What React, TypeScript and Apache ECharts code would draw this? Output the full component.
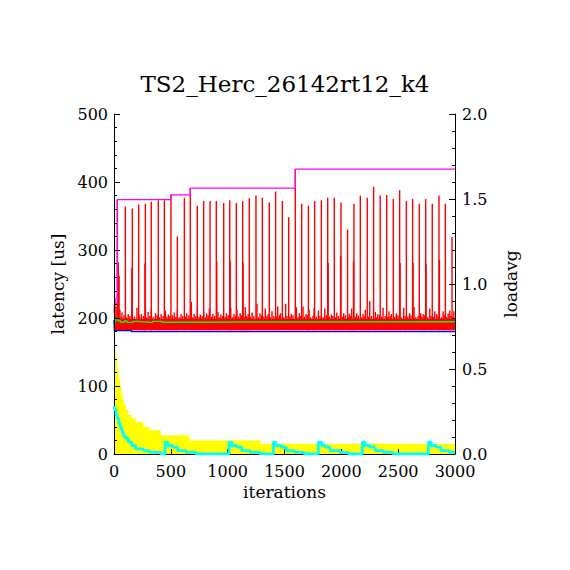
import React, { useEffect, useRef } from "react";
import * as echarts from "echarts";

// ---------- texts ----------
const TITLE = "TS2_Herc_26142rt12_k4";
const X_NAME = "iterations";
const Y_NAME = "latency [us]";
const Y2_NAME = "loadavg";

// ---------- axes ----------
const X_MIN = 0;
const X_MAX = 3000;
const X_STEP = 500;
const LAT_MIN = 0;
const LAT_MAX = 500;
const LAT_STEP = 100;
const LOAD_MIN = 0;
const LOAD_MAX = 2;
const LOAD_STEP = 0.5;

// ---------- latency: dense noise band (iterations, latency us) ----------
const bandIter = [0, 3000];
const bandLow = [182, 182];
const bandHigh = [199, 199];

// tall periodic spikes
const tallSpikeIter = [
  29, 100, 161, 217, 276, 328, 390, 443, 501, 557, 619, 671, 733, 789, 845, 900,
  965, 1018, 1076, 1132, 1190, 1249, 1305, 1366, 1422, 1481, 1537, 1595, 1651,
  1710, 1765, 1824, 1880, 1938, 1997, 2055, 2111, 2167, 2228, 2284, 2342, 2399,
  2457, 2513, 2572, 2627, 2686, 2742, 2800, 2859, 2915, 2974,
];
const tallSpikeVal = [
  374, 364, 361, 367, 368, 371, 373, 373, 381, 320, 377, 391, 365, 372, 372, 372,
  369, 373, 369, 372, 376, 380, 377, 370, 386, 372, 348, 419, 368,
  365, 372, 373, 377, 377, 370, 330, 368, 380, 377, 393, 380, 381,
  375, 388, 372, 375, 368, 375, 368, 380, 368, 319,
];

// medium spikes
const midSpikeIter = [
  8, 38, 45, 157, 272, 904, 1022, 1136, 1884, 1993, 2107, 2517, 2631, 2746, 2863,
];
const midSpikeVal = [
  230, 282, 262, 273, 280, 283, 283, 281, 281, 291, 283, 281, 281, 279, 285,
];

// small spikes on top of the band
const smallSpikeIter = [
  18, 52, 70, 125, 158, 202, 240, 300, 328, 365, 415, 452, 478, 530, 557, 590,
  640, 680, 705, 733, 760, 789, 815, 839, 870, 915, 940, 990, 1027, 1055, 1082,
  1110, 1155, 1180, 1215, 1258, 1285, 1331, 1355, 1390, 1440, 1465, 1510, 1560,
  1604, 1630, 1663, 1690, 1716, 1760, 1798, 1854, 1912, 1960, 2021, 2070, 2091,
  2135, 2190, 2211, 2250, 2299, 2320, 2367, 2419, 2440, 2484, 2549, 2600, 2640,
  2698, 2720, 2778, 2822, 2840, 2895, 2940, 2954, 2990,
];
const smallSpikeVal = [
  217, 212, 208, 206, 212, 215, 206, 209, 214, 207, 206, 211, 205, 208, 210, 206,
  207, 224, 206, 216, 205, 210, 207, 214, 206, 209, 205, 207, 215, 206, 212,
  207, 216, 206, 208, 221, 207, 214, 206, 210, 217, 207, 221, 206,
  216, 207, 217, 206, 212, 214, 211, 214, 205, 208, 207, 206, 214,
  207, 206, 212, 225, 209, 206, 215, 210, 206, 207, 215, 207, 216,
  207, 206, 214, 210, 206, 210, 207, 211, 210,
];

// fine ragged noise along the top edge of the band
const fineNoiseIter = [
  35, 62, 88, 112, 140, 180, 222, 258, 285, 315, 345, 380, 400, 432, 465, 492,
  515, 545, 575, 605, 628, 658, 692, 720, 748, 775, 802, 828, 858, 885, 925,
  955, 978, 1005, 1040, 1068, 1095, 1122, 1145, 1168, 1200, 1230, 1270, 1298,
  1318, 1345, 1375, 1405, 1430, 1455, 1492, 1522, 1548, 1575, 1618, 1642, 1675,
  1700, 1730, 1750, 1780, 1812, 1840, 1868, 1895, 1925, 1948, 1975, 2008, 2035,
  2062, 2080, 2122, 2150, 2178, 2200, 2240, 2265, 2310, 2335, 2355, 2385, 2408,
  2430, 2470, 2498, 2528, 2560, 2585, 2612, 2655, 2675, 2708, 2732, 2760, 2790,
  2812, 2850, 2880, 2905, 2928, 2965, 2985,
];
const fineNoiseVal = [
  203, 202, 204, 201, 203, 202, 204, 203, 201, 203, 202, 204, 201, 203, 202, 203,
  204, 202, 201, 203, 202, 204, 201, 203, 202, 203, 201, 204, 202, 203, 201,
  203, 202, 204, 201, 203, 202, 204, 201, 203, 202, 203, 201, 204,
  202, 203, 201, 203, 202, 204, 201, 203, 202, 204, 201, 203, 202,
  204, 201, 203, 202, 203, 201, 204, 202, 203, 201, 203, 202, 204,
  201, 203, 202, 204, 201, 203, 202, 203, 201, 204, 202, 203, 201,
  203, 202, 204, 201, 203, 202, 204, 201, 203, 202, 204, 201, 203,
  202, 203, 201, 204, 202, 203, 201,
];

// running minimum / average / maximum latency (step lines)
const minIter = [0, 3, 152, 3000];
const minVal = [197, 181.5, 180, 180];
const avgIter = [0, 10, 40, 60, 90, 115, 170, 210, 280, 300, 340, 420, 470, 3000];
const avgVal = [193, 197, 195.5, 193.5, 195.5, 193.5, 195, 194, 195, 193.5, 195, 193.8, 194.5, 194.5];
const maxIter = [0, 5, 29, 501, 671, 1595, 3000];
const maxVal = [207, 221, 374, 381, 391, 419, 419];

// ---------- loadavg (right axis) ----------
const loadAIter = [0, 6, 18, 29, 41, 53, 64, 76, 88, 106, 126, 155, 191, 258, 311, 410, 663, 1290, 3000];
const loadAVal = [0.68, 0.61, 0.56, 0.49, 0.44, 0.4, 0.36, 0.32, 0.29, 0.26, 0.23, 0.21, 0.19, 0.16, 0.14, 0.11, 0.08, 0.06, 0.06];

const loadBIter = [
  0, 6, 18, 29, 41, 53, 64, 76, 88, 106, 126, 155, 191, 258, 311, 410,
  449, 472, 516, 560, 633, 721,
  1012, 1035, 1079, 1123, 1196, 1284,
  1402, 1425, 1469, 1513, 1586, 1674,
  1798, 1827, 1857, 1901, 1983, 2062,
  2185, 2208, 2252, 2296, 2369, 2457,
  2766, 2789, 2833, 2877, 2950, 3000,
];
const loadBVal = [
  0.28, 0.26, 0.23, 0.21, 0.18, 0.16, 0.14, 0.12, 0.1, 0.09, 0.07, 0.05, 0.03, 0.02, 0.01, 0.0,
  0.07, 0.05, 0.04, 0.02, 0.01, 0.0,
  0.07, 0.05, 0.04, 0.02, 0.01, 0.0,
  0.07, 0.05, 0.04, 0.02, 0.01, 0.0,
  0.07, 0.05, 0.04, 0.02, 0.01, 0.0,
  0.07, 0.05, 0.04, 0.02, 0.01, 0.0,
  0.07, 0.05, 0.04, 0.02, 0.01, 0.01,
];

// ---------- styles ----------
const FONT = "DejaVu Serif";
const BLACK = "#000000";
const RED = "#ff0000";
const SPIKE_W = 1.4;

const zip = (xs: number[], ys: number[]) => xs.map((x, i) => [x, ys[i]]);

export default function App() {
  const ref = useRef<HTMLDivElement>(null);

  useEffect(() => {
    if (!ref.current) return;
    const chart = echarts.init(ref.current, undefined, { renderer: "svg" });

    const redData: number[][] = [];
    for (let i = 0; i < bandIter.length - 1; i++) {
      redData.push([bandIter[i], bandIter[i + 1], bandLow[i], bandHigh[i]]);
    }
    const base = bandLow[0];
    fineNoiseIter.forEach((x, i) => redData.push([x, x, base, fineNoiseVal[i]]));
    smallSpikeIter.forEach((x, i) => redData.push([x, x, base, smallSpikeVal[i]]));
    midSpikeIter.forEach((x, i) => redData.push([x, x, base, midSpikeVal[i]]));
    tallSpikeIter.forEach((x, i) => redData.push([x, x, base, tallSpikeVal[i]]));

    const nameText = { color: BLACK, fontFamily: FONT, fontSize: 17 };
    const tickText = { color: BLACK, fontFamily: FONT, fontSize: 16 };

    chart.setOption({
      animation: false,
      backgroundColor: "#ffffff",
      title: {
        text: TITLE,
        left: "center",
        top: 67,
        textStyle: { color: BLACK, fontFamily: FONT, fontSize: 23, fontWeight: "normal" },
      },
      grid: { left: 114, right: 115, top: 114, bottom: 116, containLabel: false },
      xAxis: {
        type: "value",
        min: X_MIN,
        max: X_MAX,
        interval: X_STEP,
        z: 8,
        name: X_NAME,
        nameLocation: "middle",
        nameGap: 24,
        nameTextStyle: nameText,
        axisLine: { show: true, onZero: false, lineStyle: { color: BLACK, width: 1 } },
        axisTick: { show: true, inside: true, length: 5, lineStyle: { color: BLACK } },
        axisLabel: { ...tickText, margin: 9, formatter: (v: number) => String(v) },
        splitLine: { show: false },
      },
      yAxis: [
        {
          type: "value",
          min: LAT_MIN,
          max: LAT_MAX,
          interval: LAT_STEP,
          position: "left",
          z: 8,
          name: Y_NAME,
          nameLocation: "middle",
          nameRotate: 90,
          nameGap: 47,
          nameTextStyle: nameText,
          axisLine: { show: true, onZero: false, lineStyle: { color: BLACK, width: 1 } },
          axisTick: { show: true, inside: true, length: 6, lineStyle: { color: BLACK } },
          minorTick: { show: true, splitNumber: 5, length: 3, lineStyle: { color: BLACK } },
          axisLabel: { ...tickText, margin: 6, formatter: (v: number) => String(v) },
          splitLine: { show: false },
        },
        {
          type: "value",
          min: LOAD_MIN,
          max: LOAD_MAX,
          interval: LOAD_STEP,
          position: "right",
          z: 8,
          name: Y2_NAME,
          nameLocation: "middle",
          nameRotate: 90,
          nameGap: 47,
          nameTextStyle: nameText,
          axisLine: { show: true, onZero: false, lineStyle: { color: BLACK, width: 1 } },
          axisTick: { show: true, inside: true, length: 6, lineStyle: { color: BLACK } },
          minorTick: { show: true, splitNumber: 5, length: 3, lineStyle: { color: BLACK } },
          axisLabel: { ...tickText, margin: 7, formatter: (v: number) => v.toFixed(1) },
          splitLine: { show: false },
        },
      ],
      series: [
        {
          type: "line",
          yAxisIndex: 1,
          step: "end",
          z: 2,
          data: zip(loadAIter, loadAVal),
          showSymbol: false,
          lineStyle: { width: 0, color: "#ffff00" },
          areaStyle: { color: "#ffff00", opacity: 1 },
        },
        {
          type: "custom",
          z: 3,
          clip: true,
          encode: { x: [0, 1], y: [2, 3] },
          data: redData,
          renderItem: (_p: any, api: any) => {
            const x0 = api.value(0);
            const x1 = api.value(1);
            const lo = api.value(2);
            const hi = api.value(3);
            const p0 = api.coord([x0, hi]);
            const p1 = api.coord([x1, lo]);
            const isSpike = x1 === x0;
            const w = isSpike ? SPIKE_W : p1[0] - p0[0];
            return {
              type: "rect",
              shape: {
                x: isSpike ? p0[0] - SPIKE_W / 2 : p0[0],
                y: p0[1],
                width: w,
                height: p1[1] - p0[1],
              },
              style: { fill: RED },
            };
          },
        },
        {
          type: "line",
          step: "end",
          z: 4,
          data: zip(minIter, minVal),
          showSymbol: false,
          lineStyle: { width: 1.4, color: "#0000ff" },
        },
        {
          type: "line",
          step: "end",
          z: 5,
          data: zip(avgIter, avgVal),
          showSymbol: false,
          lineStyle: { width: 1.4, color: "#00ff00" },
        },
        {
          type: "line",
          step: "end",
          z: 6,
          data: zip(maxIter, maxVal),
          showSymbol: false,
          lineStyle: { width: 1.3, color: "#ff00ff" },
        },
        {
          type: "line",
          yAxisIndex: 1,
          step: "end",
          z: 9,
          data: zip(loadBIter, loadBVal),
          showSymbol: false,
          lineStyle: { width: 2.8, color: "#00ffff" },
        },
      ],
    });

    return () => chart.dispose();
  }, []);

  return (
    <div
      ref={ref}
      style={{ position: "fixed", left: 0, top: 0, width: 570, height: 570, background: "#fff" }}
    />
  );
}
